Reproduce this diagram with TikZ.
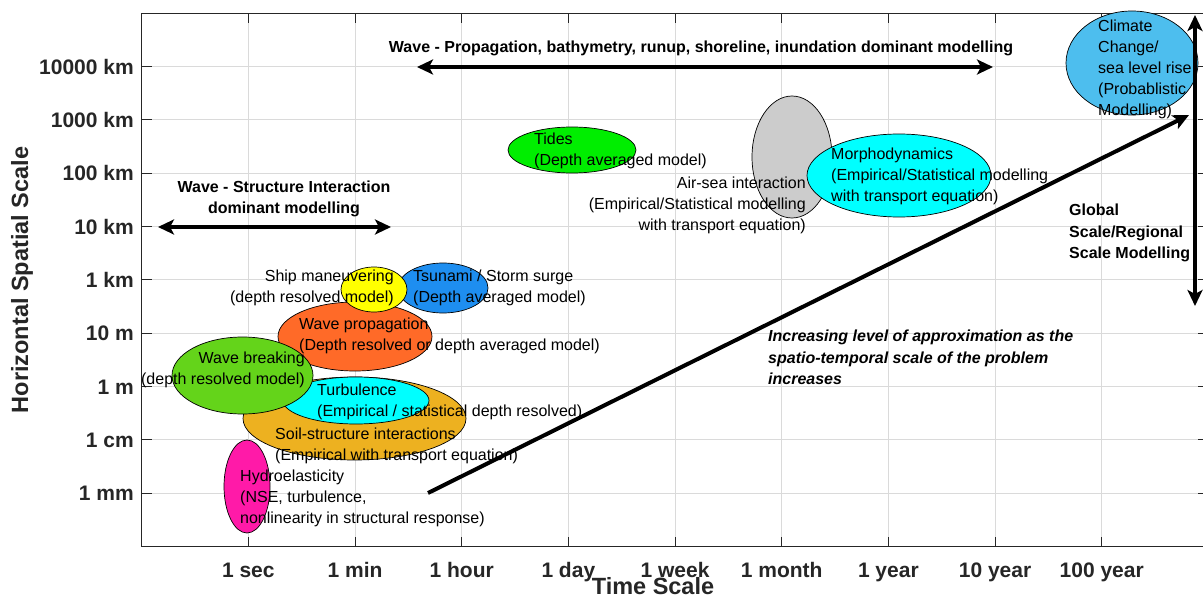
\documentclass[tikz,border=0pt]{standalone}
\usepackage{fontspec}
\setmainfont{Liberation Sans}
\usetikzlibrary{shapes.geometric,arrows.meta}
\definecolor{axisgray}{HTML}{262626}
\definecolor{gridgray}{HTML}{DADADA}
\definecolor{climateblue}{HTML}{4DBEEE}
\definecolor{airgray}{HTML}{CCCCCC}
\definecolor{purecyan}{HTML}{00FFFF}
\definecolor{tidegreen}{HTML}{00EE00}
\definecolor{tsunamiblue}{HTML}{1E8EF0}
\definecolor{shipyellow}{HTML}{FFFF00}
\definecolor{waveorange}{HTML}{FF6A28}
\definecolor{breakgreen}{HTML}{64D41A}
\definecolor{soilgold}{HTML}{EDB120}
\definecolor{hydromagenta}{HTML}{FF1AA8}
\begin{document}
\begin{tikzpicture}[x=1pt,y=-1pt,
  blob/.style={ellipse, draw=black, line width=0.7pt, inner sep=0pt},
  lbl/.style={font=\fontsize{16}{21}\selectfont, inner sep=0pt},
  blbl/.style={font=\bfseries\fontsize{16}{21.5}\selectfont, inner sep=0pt},
  ilbl/.style={font=\bfseries\itshape\fontsize{16}{21.5}\selectfont, inner sep=0pt},
  ticklbl/.style={font=\bfseries\fontsize{21}{25}\selectfont, text=axisgray, inner sep=0pt},
  axtitle/.style={font=\bfseries\fontsize{23.5}{28}\selectfont, text=axisgray, inner sep=0pt},
  gridline/.style={draw=gridgray, line width=1pt},
  bigarrow/.style={line width=4pt, {Stealth[length=16pt,width=15pt,inset=4pt]}-{Stealth[length=16pt,width=15pt,inset=4pt]}},
  onearrow/.style={line width=4pt, -{Stealth[length=16pt,width=15pt,inset=4pt]}}
]
\useasboundingbox (0,0) rectangle (1203,599);
\fill[white] (0,0) rectangle (1203,599);
\begin{scope}
\clip (0,0) rectangle (1203,599);
% grid
\foreach \i in {1,...,9}{
  \draw[gridline] ({141.67+106.67*\i},13.33) -- ({141.67+106.67*\i},546.67);
  \draw[gridline] (141.67,{13.33+53.33*\i}) -- (1208.4,{13.33+53.33*\i});
}
% ticks
\foreach \i in {1,...,9}{
  \draw[axisgray, line width=1pt] ({141.67+106.67*\i},13.33) -- ({141.67+106.67*\i},23.33);
  \draw[axisgray, line width=1pt] ({141.67+106.67*\i},546.67) -- ({141.67+106.67*\i},536.67);
  \draw[axisgray, line width=1pt] (141.67,{13.33+53.33*\i}) -- (151.67,{13.33+53.33*\i});
  \draw[axisgray, line width=1pt] (1208.4,{13.33+53.33*\i}) -- (1198.4,{13.33+53.33*\i});
}
\draw[axisgray, line width=1pt] (141.67,13.33) rectangle (1208.4,546.67);
\end{scope}
% tick labels
\foreach \t [count=\i] in {10000 km,1000 km,100 km,10 km,1 km,10 m,1 m,1 cm,1 mm}{
  \node[ticklbl, anchor=base east] (yl\i) at (134,{13.33+53.33*\i+7.5}) {\t};
}
\foreach \t [count=\i] in {1 sec,1 min,1 hour,1 day,1 week,1 month,1 year,10 year,100 year}{
  \node[ticklbl, anchor=base] (xl\i) at ({141.67+106.67*\i},577.5) {\t};
}
\node[axtitle, anchor=base] (xtitle) at (653,594) {Time Scale};
\node[axtitle, rotate=90] (ytitle) at (22,280) {Horizontal Spatial Scale};
% ellipses
\node[blob, fill=climateblue, minimum width=132pt, minimum height=104pt] (climate) at (1132,63) {};
\node[blob, fill=airgray, minimum width=80pt, minimum height=122pt] (airsea) at (792,157) {};
\node[blob, fill=purecyan, minimum width=184pt, minimum height=83pt] (morpho) at (899,175.5) {};
\node[blob, fill=tidegreen, minimum width=128pt, minimum height=46pt] (tides) at (572,150) {};
\node[blob, fill=tsunamiblue, minimum width=90pt, minimum height=50pt] (tsunami) at (443,288) {};
\node[blob, fill=waveorange, minimum width=154pt, minimum height=69pt] (waveprop) at (355,336.5) {};
\node[blob, fill=shipyellow, minimum width=66pt, minimum height=45pt] (ship) at (374,289.5) {};
\node[blob, fill=soilgold, minimum width=223pt, minimum height=83pt] (soil) at (354.5,418.5) {};
\node[blob, fill=purecyan, minimum width=146pt, minimum height=47pt] (turb) at (356,400.5) {};
\node[blob, fill=breakgreen, minimum width=141pt, minimum height=77pt] (breaking) at (242.5,375.5) {};
\node[blob, fill=hydromagenta, minimum width=46pt, minimum height=93pt] (hydro) at (247,486.5) {};
% arrows
\coordinate (wsL) at (158,227);
\coordinate (wsR) at (391,227);
\coordinate (wpL) at (417,67);
\coordinate (wpR) at (993,67);
\coordinate (gsT) at (1195,15);
\coordinate (gsB) at (1195,306);
\coordinate (inc0) at (428,493);
\coordinate (inc1) at (1189,115);
\draw[bigarrow] (wsL) -- (wsR);
\draw[bigarrow] (wpL) -- (wpR);
\draw[bigarrow] (gsT) -- (gsB);
\draw[onearrow] (inc0) -- (inc1);
% texts
\node[blbl, align=center] (wstext) at (284,199) {Wave - Structure Interaction\\dominant modelling};
\node[blbl] (wptext) at (701,48) {Wave - Propagation, bathymetry, runup, shoreline, inundation dominant modelling};
\node[blbl, anchor=west, align=left] (gstext) at (1069,233) {Global\\Scale/Regional\\Scale Modelling};
\node[ilbl, anchor=west, align=left] (inctext) at (768,357.5) {Increasing level of approximation as the\\spatio-temporal scale of the problem\\increases};
\node[lbl, anchor=west, align=left] (climatetext) at (1098,69) {Climate\\Change/\\sea level rise\\(Probablistic\\Modelling)};
\node[lbl, anchor=east, align=right] (airseatext) at (806,205) {Air-sea interaction\\(Empirical/Statistical modelling\\with transport equation)};
\node[lbl, anchor=west, align=left] (morphotext) at (831,176) {Morphodynamics\\(Empirical/Statistical modelling\\with transport equation)};
\node[lbl, anchor=west, align=left] (tidestext) at (534,150.5) {Tides\\(Depth averaged model)};
\node[lbl, anchor=west, align=left] (tsunamitext) at (413,287.5) {Tsunami / Storm surge\\(Depth averaged model)};
\node[lbl, anchor=east, align=right] (shiptext) at (394,287.5) {Ship maneuvering\\(depth resolved model)};
\node[lbl, anchor=west, align=left] (waveproptext) at (299,335.5) {Wave propagation\\(Depth resolved or depth averaged model)};
\node[lbl, anchor=east, align=right] (breakingtext) at (305,369.5) {Wave breaking\\(depth resolved model)};
\node[lbl, anchor=west, align=left] (turbtext) at (317,401.5) {Turbulence\\(Empirical / statistical depth resolved)};
\node[lbl, anchor=west, align=left] (soiltext) at (275,446) {Soil-structure interactions\\(Empirical with transport equation)};
\node[lbl, anchor=west, align=left] (hydrotext) at (240,498.5) {Hydroelasticity\\(NSE, turbulence,\\nonlinearity in structural response)};
\end{tikzpicture}
\end{document}
